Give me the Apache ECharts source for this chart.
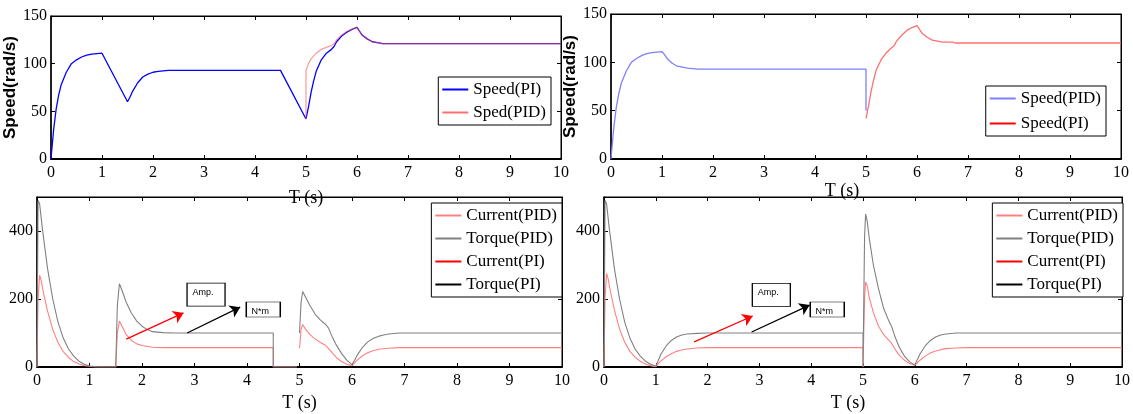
<!DOCTYPE html>
<html>
<head>
<meta charset="utf-8">
<script src="https://cdn.jsdelivr.net/npm/echarts@6/dist/echarts.min.js"></script>
<style>html,body{margin:0;background:#fff}#main{width:1133px;height:414px}</style>
</head>
<body>
<div id="main"></div>
<script>
// time axis ticks
var xTicks = [0, 10, 1];

// top-left: speed, PI vs PID (PID only differs after t=5)
var speedPI_L = [[0,0],[0.05,30],[0.1,52],[0.15,67],[0.2,78],[0.3,91],[0.4,100],[0.5,104],[0.6,107],[0.7,109],[0.8,110],[0.9,110.5],[1.0,111],
  [1.5,60],[1.55,65],[1.6,71],[1.7,80],[1.8,86],[1.9,89],[2.0,91],[2.1,92],[2.3,93],[4.5,93],
  [5.0,42],[5.05,55],[5.1,70],[5.15,82],[5.2,92],[5.3,104],[5.4,111],[5.5,115],[5.55,118],[5.6,123],[5.7,129],[5.8,133],[5.9,136],[6.0,138],
  [6.05,134],[6.1,130],[6.2,126],[6.3,123],[6.4,122],[6.5,121],[10,121]];
var speedPID_L = [[5.0,42],[5.0,93],[5.05,100],[5.1,105],[5.2,111],[5.3,115],[5.4,117],[5.5,119],[5.55,121],[5.6,125],[5.7,130],[5.8,134],[5.9,136],[6.0,138],
  [6.05,134],[6.1,130],[6.2,126],[6.3,123],[6.4,122],[6.5,121],[10,121]];

// top-right: speed
var speedPID_R = [[0,0],[0.05,30],[0.1,52],[0.15,67],[0.2,78],[0.3,91],[0.4,100],[0.5,104],[0.6,107],[0.7,109],[0.8,110],[0.9,110.5],[1.0,111],
  [1.05,108],[1.1,104],[1.2,99],[1.3,96],[1.4,95],[1.5,94],[1.7,93],[5.0,93],[5.0,50]];
var speedPI_R = [[5.0,42],[5.05,55],[5.1,70],[5.15,82],[5.2,92],[5.3,103],[5.4,110],[5.5,115],[5.55,117],[5.6,122],[5.7,128],[5.8,133],[5.9,136],[6.0,138],
  [6.05,134],[6.1,130],[6.2,126],[6.3,123],[6.4,122],[6.5,121],[6.7,121],[6.75,120],[10,120]];

// bottom-left: current and torque
var currentPID_L = [[0,0],[0.02,200],[0.05,270],[0.08,255],[0.12,220],[0.2,165],[0.3,110],[0.4,72],[0.5,45],[0.6,28],[0.7,16],[0.8,9],[0.9,4],[1.0,2],[1.1,0],
  [1.5,0],[1.53,100],[1.57,135],[1.62,120],[1.7,95],[1.8,78],[1.9,68],[2.0,63],[2.2,58],[2.4,57],[4.5,57],[4.5,0],[4.95,0],[4.97,'-'],
  [5.0,55],[5.03,110],[5.06,125],[5.12,110],[5.2,95],[5.3,82],[5.4,72],[5.5,63],[5.55,55],[5.62,42],[5.7,28],[5.8,16],[5.9,8],[6.0,4],
  [6.05,12],[6.1,20],[6.2,33],[6.3,42],[6.4,48],[6.5,52],[6.7,55],[6.9,57],[10,57]];
var torquePID_L = [[0,0],[0.02,490],[0.05,480],[0.1,410],[0.15,350],[0.2,290],[0.3,200],[0.4,132],[0.5,85],[0.6,53],[0.7,32],[0.8,17],[0.9,8],[1.0,3],[1.1,1],[1.2,0],
  [1.5,0],[1.53,180],[1.57,245],[1.62,225],[1.7,190],[1.8,158],[1.9,135],[2.0,120],[2.1,110],[2.2,104],[2.4,101],[2.6,100],[4.5,100],[4.5,0],[4.95,0],[4.97,'-'],
  [5.0,100],[5.03,190],[5.06,222],[5.1,210],[5.2,180],[5.3,155],[5.4,138],[5.5,125],[5.55,115],[5.62,90],[5.7,65],[5.8,40],[5.9,20],[6.0,7],
  [6.05,20],[6.1,35],[6.2,58],[6.3,74],[6.4,84],[6.5,90],[6.6,94],[6.7,97],[6.9,100],[10,100]];

// bottom-right: current and torque
var currentPID_R = [[0,0],[0.02,200],[0.05,275],[0.08,260],[0.12,225],[0.2,168],[0.3,112],[0.4,73],[0.5,46],[0.6,29],[0.7,17],[0.8,9],[0.9,4],[1.0,1],
  [1.05,10],[1.1,18],[1.2,30],[1.3,39],[1.4,46],[1.5,50],[1.6,53],[1.8,56],[2.0,57],[5.0,57],[5.0,0],
  [5.03,200],[5.05,250],[5.08,240],[5.12,205],[5.2,160],[5.3,120],[5.4,95],[5.5,78],[5.55,70],[5.62,52],[5.7,35],[5.8,20],[5.9,10],[6.0,5],
  [6.05,12],[6.1,20],[6.2,32],[6.3,41],[6.4,47],[6.5,51],[6.6,54],[6.8,56],[7.0,57],[10,57]];
var torquePID_R = [[0,0],[0.02,490],[0.05,480],[0.1,410],[0.2,290],[0.3,200],[0.4,132],[0.5,85],[0.6,53],[0.7,32],[0.8,17],[0.9,8],[1.0,3],
  [1.05,20],[1.1,38],[1.2,62],[1.3,78],[1.4,88],[1.5,94],[1.6,97],[1.8,99],[2.0,100],[5.0,100],[5.0,0],
  [5.03,380],[5.05,450],[5.08,430],[5.12,380],[5.2,300],[5.3,230],[5.4,172],[5.5,135],[5.55,120],[5.62,88],[5.7,58],[5.8,32],[5.9,15],[6.0,6],
  [6.05,22],[6.1,38],[6.2,62],[6.3,78],[6.4,88],[6.5,94],[6.6,97],[6.8,100],[10,100]];
// PI traces of the lower plots are not visible in the figure
var currentPI = [];
var torquePI = [];

// annotation arrows / boxes (data coords)
var arrowsL = [[[1.70,82],[2.79,159],'#ff0000'],[[2.86,100],[3.87,176],'#000']];
var arrowsR = [[[1.74,74],[2.87,150],'#ff0000'],[[2.85,103],[3.97,182],'#000']];
var boxesL = [[3.22,213,'Amp.'],[4.31,169,'N*m']];
var boxesR = [[3.23,212,'Amp.'],[4.31,169,'N*m']];

var serif = 'Liberation Serif';
var grids = [
  {left: 51, right: 572, top: 16, height: 143},
  {left: 611, right: 12, top: 14, height: 145},
  {left: 37, right: 571, top: 197, height: 170},
  {left: 604, right: 10, top: 197, height: 170}
];
grids.forEach(function (g) { g.show = true; g.borderColor = '#000'; g.borderWidth = 1; });

function xAx(g, top) {
  return {
    type: 'value', gridIndex: g, position: top ? 'top' : 'bottom',
    min: xTicks[0], max: xTicks[1], interval: xTicks[2],
    axisLine: {show: true, onZero: false, lineStyle: {color: '#000', width: top ? 1 : 2}},
    axisTick: {show: true, inside: true, length: 4, lineStyle: {color: '#000'}},
    axisLabel: {show: !top, color: '#000', fontFamily: serif, fontSize: 16, margin: 6},
    splitLine: {show: false}
  };
}
function yAx(g, right, max, step) {
  return {
    type: 'value', gridIndex: g, position: right ? 'right' : 'left',
    min: 0, max: max, interval: step,
    axisLine: {show: true, onZero: false, lineStyle: {color: '#000', width: right ? 1 : 1.5}},
    axisTick: {show: true, inside: true, length: 4, lineStyle: {color: '#000'}},
    axisLabel: {show: !right, color: '#000', fontFamily: serif, fontSize: 16, margin: 4, showMaxLabel: max === 150},
    splitLine: {show: false}
  };
}

var xAxes = [xAx(0), xAx(1), xAx(2), xAx(3), xAx(0, true), xAx(1, true), xAx(2, true), xAx(3, true)];
var yAxes = [yAx(0, false, 150, 50), yAx(1, false, 150, 50), yAx(2, false, 500, 200), yAx(3, false, 500, 200),
             yAx(0, true, 150, 50), yAx(1, true, 150, 50), yAx(2, true, 500, 200), yAx(3, true, 500, 200)];

var nameStyle = {fontFamily: serif, fontSize: 18, color: '#000'};
xAxes[0].name = 'T (s)'; xAxes[0].nameLocation = 'middle'; xAxes[0].nameGap = 30; xAxes[0].nameTextStyle = nameStyle;
xAxes[1].name = 'T (s)'; xAxes[1].nameLocation = 'middle'; xAxes[1].nameGap = 8;
xAxes[1].nameTextStyle = Object.assign({padding: [0, 48, 0, 0]}, nameStyle);
xAxes[2].name = 'T (s)'; xAxes[2].nameLocation = 'middle'; xAxes[2].nameGap = 27; xAxes[2].nameTextStyle = nameStyle;
xAxes[3].name = 'T (s)'; xAxes[3].nameLocation = 'middle'; xAxes[3].nameGap = 27;
xAxes[3].nameTextStyle = Object.assign({padding: [0, 30, 0, 0]}, nameStyle);
var yNameStyle = {fontFamily: 'Liberation Sans', fontWeight: 'bold', fontSize: 17, color: '#000'};
yAxes[0].name = 'Speed(rad/s)'; yAxes[0].nameLocation = 'middle'; yAxes[0].nameGap = 28; yAxes[0].nameTextStyle = yNameStyle;
yAxes[1].name = 'Speed(rad/s)'; yAxes[1].nameLocation = 'middle'; yAxes[1].nameGap = 23; yAxes[1].nameTextStyle = yNameStyle;

function line(name, data, g, color, extra) {
  var s = {
    type: 'line', name: name, data: data, xAxisIndex: g, yAxisIndex: g,
    symbol: 'none', showSymbol: false, connectNulls: false,
    lineStyle: {color: color, width: g < 2 ? 1.3 : 1.1}, itemStyle: {color: color}
  };
  return Object.assign(s, extra || {});
}

function notes(arrows, boxes) {
  return {
    markLine: {
      silent: true, symbol: ['none', 'arrow'], symbolSize: 10, label: {show: false},
      data: arrows.map(function (a) {
        return [{coord: a[0], lineStyle: {color: a[2], width: 1.3, type: 'solid'}}, {coord: a[1]}];
      })
    },
    markPoint: {
      silent: true,
      data: boxes.map(function (b) {
        var amp = b[2] === 'Amp.';
        return {
          coord: [b[0], b[1]], symbol: 'rect', symbolSize: amp ? [38, 23] : [34, 15],
          itemStyle: {color: '#fff', borderColor: '#000', borderWidth: 1},
          label: {show: true, position: 'inside', formatter: b[2], color: '#000',
                  fontFamily: 'Liberation Sans', fontSize: 9, offset: amp ? [-3, -2] : [-3, 2]}
        };
      })
    }
  };
}

var series = [
  line('Speed(PI)', speedPI_L, 0, '#0000ff'),
  line('Sped(PID)', speedPID_L, 0, '#ff6060', {lineStyle: {color: '#ff5050', width: 1.3, opacity: 0.55}}),
  line('Speed(PID)', speedPID_R, 1, '#7f7fff'),
  line('Speed(PI)', speedPI_R, 1, '#ff7070'),
  line('Current(PID)', currentPID_L, 2, '#ff8080'),
  line('Torque(PID)', torquePID_L, 2, '#808080', notes(arrowsL, boxesL)),
  line('Current(PI)', currentPI, 2, '#ff0000'),
  line('Torque(PI)', torquePI, 2, '#000000'),
  line('Current(PID)', currentPID_R, 3, '#ff8080'),
  line('Torque(PID)', torquePID_R, 3, '#808080', notes(arrowsR, boxesR)),
  line('Current(PI)', currentPI, 3, '#ff0000'),
  line('Torque(PI)', torquePI, 3, '#000000')
];

function legend(pos, items, gap) {
  return Object.assign({
    orient: 'vertical', icon: 'rect', itemWidth: 26, itemHeight: 2, itemGap: gap,
    padding: [4, 5, 4, 4], borderColor: '#000', borderWidth: 1, backgroundColor: '#fff',
    selectedMode: false,
    textStyle: {fontFamily: serif, fontSize: 17, color: '#000'},
    data: items.map(function (it) { return {name: it[0], itemStyle: {color: it[1]}}; })
  }, pos);
}
var lowItems = [['Current(PID)', '#ff8080'], ['Torque(PID)', '#808080'], ['Current(PI)', '#ff0000'], ['Torque(PI)', '#000000']];

var option = {
  animation: false,
  backgroundColor: '#fff',
  grid: grids,
  xAxis: xAxes,
  yAxis: yAxes,
  legend: [
    legend({right: 582, top: 77}, [['Speed(PI)', '#0000ff'], ['Sped(PID)', '#ff7070']], 6),
    legend({right: 27, top: 86}, [['Speed(PID)', '#7f7fff'], ['Speed(PI)', '#ff0000']], 8),
    legend({right: 571, top: 203}, lowItems, 6),
    legend({right: 10, top: 203}, lowItems, 6)
  ],
  series: series
};

var chart = echarts.init(document.getElementById('main'));
chart.setOption(option);
</script>
</body>
</html>
